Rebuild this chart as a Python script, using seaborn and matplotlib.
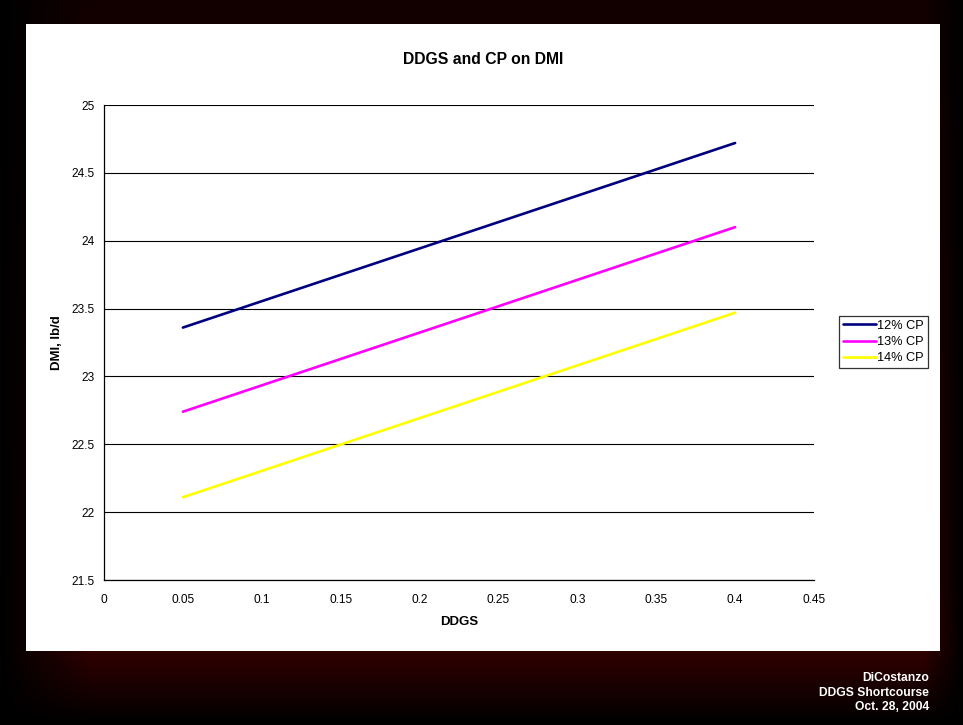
import matplotlib
matplotlib.use("Agg")
import matplotlib.pyplot as plt
import numpy as np
import pandas as pd
import seaborn as sns
from matplotlib.patches import Rectangle

# data
ddgs = [0.05, 0.40]
dmi_12 = [23.36, 24.72]
dmi_13 = [22.74, 24.10]
dmi_14 = [22.11, 23.47]
series = ["12% CP", "13% CP", "14% CP"]
colours = ["#000080", "#FF00FF", "#FFFF00"]
x_ticks = [0, 0.05, 0.1, 0.15, 0.2, 0.25, 0.3, 0.35, 0.4, 0.45]
x_labels = ["0", "0.05", "0.1", "0.15", "0.2", "0.25", "0.3", "0.35", "0.4", "0.45"]
y_ticks = [21.5, 22, 22.5, 23, 23.5, 24, 24.5, 25]
y_labels = ["21.5", "22", "22.5", "23", "23.5", "24", "24.5", "25"]

df = pd.DataFrame({
    "DDGS": ddgs * 3,
    "DMI": dmi_12 + dmi_13 + dmi_14,
    "CP": [series[0]] * 2 + [series[1]] * 2 + [series[2]] * 2,
})

sns.set_style("white")
plt.rcParams["font.family"] = ["Liberation Sans", "DejaVu Sans"]
plt.rcParams["text.color"] = "black"
plt.rcParams["axes.labelcolor"] = "black"
plt.rcParams["xtick.color"] = "black"
plt.rcParams["ytick.color"] = "black"

W, H = 963, 725
fig = plt.figure(figsize=(W / 100, H / 100), dpi=100)

# dark slide background
bg = fig.add_axes([0, 0, 1, 1], zorder=-10)
yy = np.arange(H)
xx = np.arange(W)
base = np.where(yy < 651, 0.07 + 0.12 * yy / 651, 0.19 * (1 - (yy - 651) / 72))
base = np.clip(base, 0, 1)
hx = np.clip(xx / 90, 0, 1) * np.clip((W - xx) / 40, 0, 1)
red = base[:, None] * hx[None, :]
img = np.zeros((H, W, 3))
img[..., 0] = red
img[..., 1] = red * 0.02
bg.imshow(img, aspect="auto", interpolation="bilinear")
bg.axis("off")

# white chart panel
fig.patches.append(Rectangle((26 / W, 1 - 651 / H), 914 / W, 627 / H,
                             transform=fig.transFigure, facecolor="white",
                             edgecolor="none", zorder=-5))

ax = fig.add_axes([104 / W, 1 - 580 / H, 710 / W, 475 / H])
ax.set_facecolor("none")
sns.lineplot(data=df, x="DDGS", y="DMI", hue="CP", palette=colours,
             linewidth=1.9, ax=ax, legend=True)

ax.set_xlim(0, 0.45)
ax.set_ylim(21.5, 25)
ax.set_xticks(x_ticks)
ax.set_xticklabels(x_labels)
ax.set_yticks(y_ticks)
ax.set_yticklabels(y_labels)
ax.tick_params(axis="both", labelsize=8.6, length=4, width=0.8,
               direction="out", colors="black", pad=3)
ax.tick_params(axis="x", pad=6)
ax.yaxis.grid(True, color="black", linewidth=0.8)
ax.xaxis.grid(False)
for side in ["top", "right"]:
    ax.spines[side].set_visible(False)
for side in ["left", "bottom"]:
    ax.spines[side].set_color("black")
    ax.spines[side].set_linewidth(0.9)

ax.set_xlabel("DDGS", fontsize=9.5, fontweight="bold", labelpad=7)
ax.set_ylabel("DMI, lb/d", fontsize=9.5, fontweight="bold", labelpad=6)
fig.text(483 / W, 1 - 60 / H, "DDGS and CP on DMI", ha="center", va="center",
         fontsize=11.3, fontweight="bold", color="black")

handles, labels = ax.get_legend_handles_labels()
ax.get_legend().remove()
leg = fig.legend(handles, labels, loc="center left",
                 bbox_to_anchor=(839 / W, 1 - 342 / H), fontsize=9.2,
                 frameon=True, fancybox=False, handlelength=2.6,
                 handletextpad=0.1, borderpad=0.3, labelspacing=0.35,
                 borderaxespad=0)
leg.get_frame().set_edgecolor("black")
leg.get_frame().set_linewidth(0.9)
for t in leg.get_texts():
    t.set_color("black")

for i, line in enumerate(["DiCostanzo", "DDGS Shortcourse", "Oct. 28, 2004"]):
    fig.text(929 / W, 1 - (678 + 14.5 * i) / H, line, ha="right", va="center",
             color="white", fontsize=8.7, fontweight="bold")

fig.savefig("out.png", dpi=100)
